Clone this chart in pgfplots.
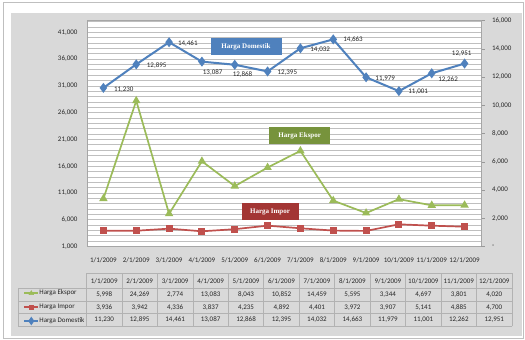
\documentclass[border=0pt]{standalone}
\usepackage{pgfplots}
\pgfplotsset{compat=1.18}
\usepackage{pgfplotstable}
\usepackage{fontspec}
\setmainfont{Carlito}
\newfontfamily\boxfont{Liberation Serif}
\definecolor{cblue}{HTML}{4F81BD}
\definecolor{cred}{HTML}{C0504D}
\definecolor{cgreen}{HTML}{9BBB59}
\definecolor{bblue}{HTML}{4F81BD}
\definecolor{bgreen}{HTML}{77933C}
\definecolor{bred}{HTML}{A33634}
\definecolor{bgc}{HTML}{D9D9D9}
\definecolor{gridc}{HTML}{BFBFBF}
\definecolor{txt}{HTML}{262626}

\pgfplotstableread{
x impor ekspor
0 3936 5998
1 3942 24269
2 4336 2774
3 3837 13083
4 4235 8043
5 4892 10852
6 4401 14459
7 3972 5595
8 3907 3344
9 5141 4697
10 4885 3801
11 4700 4020
}\tabA

\pgfplotstableread{
x dom lab dx dy
0 11230 11,230 8.6 -2
1 12895 12,895 8.7 -1.3
2 14461 14,461 7 -1
3 13087 13,087 -1 -11.4
4 12868 12,868 -4 -10.2
5 12395 12,395 8 -1.3
6 14032 14,032 8 -1
7 14663 14,663 8 -0.6
8 11979 11,979 7.4 -1.7
9 11001 11,001 7.5 -0.6
10 12262 12,262 4.6 -6.7
11 12951 12,951 -14.6 10
}\tabB

\newcommand{\sm}{\fontsize{7}{8}\selectfont}

\begin{document}
\begin{tikzpicture}
\useasboundingbox (0pt,0pt) rectangle (525pt,340pt);
\fill[white] (0pt,0pt) rectangle (525pt,340pt);
\draw[black!25] (3pt,1.5pt) rectangle (523.5pt,338pt);
\fill[bgc] (11pt,3.5pt) rectangle (522pt,327.3pt);

\begin{axis}[
  at={(87pt,93.5pt)}, anchor=south west,
  width=394pt, height=226pt, scale only axis,
  axis background/.style={fill=white},
  xmin=-0.5, xmax=11.5, ymin=1000, ymax=43200,
  xtick=\empty,
  scaled y ticks=false,
  ytick={1000,6000,...,41000},
  minor ytick={2000,3000,...,43000},
  ymajorgrids, yminorgrids,
  major grid style={gridc, line width=0.6pt},
  minor grid style={gridc, line width=0.6pt},
  y tick style={draw=none},
  yticklabel style={font=\sm, text=txt, xshift=-6pt, /pgf/number format/fixed, /pgf/number format/1000 sep={,}},
  /pgf/number format/assume math mode=true,
  axis line style={black!35},
  stack plots=y,
]
\addplot[cred, line width=1.7pt, mark=square*, mark size=2.6pt] table[x=x,y=impor]{\tabA};
\addplot[cgreen, line width=1.7pt, mark=triangle*, mark size=3.2pt] table[x=x,y=ekspor]{\tabA};
\end{axis}

\begin{axis}[
  at={(87pt,93.5pt)}, anchor=south west,
  width=394pt, height=226pt, scale only axis,
  xmin=-0.5, xmax=11.5, ymin=0, ymax=16000,
  hide x axis, xtick=\empty,
  axis y line*=right,
  axis line style={black!35},
  scaled y ticks=false,
  ytick={0,2000,...,16000},
  yticklabels={-,{2,000},{4,000},{6,000},{8,000},{10,000},{12,000},{14,000},{16,000}},
  yticklabel style={font=\sm, text=txt, xshift=4pt},
  tick align=outside, major tick length=3.5pt,
  y tick style={black!40},
  legend style={at={(-0.1688,-0.2677)}, anchor=west, draw=none, fill=none,
    font=\sm, row sep=6.5pt, text=txt,
    nodes={inner sep=0.5pt, text height=5pt, text depth=1.5pt}},
  legend cell align=left,
]
\addlegendimage{legend image code/.code={\draw[cgreen, line width=1.2pt] (0pt,0pt) -- (14pt,0pt); \fill[cgreen] (7pt,2.4pt) -- (9.3pt,-1.6pt) -- (4.7pt,-1.6pt) -- cycle;}, cgreen}
\addlegendentry{Harga Ekspor}
\addlegendimage{legend image code/.code={\draw[cred, line width=1.2pt] (0pt,0pt) -- (14pt,0pt); \fill[cred] (5pt,-2pt) rectangle (9pt,2pt);}, cred}
\addlegendentry{Harga Impor}
\addplot[cblue, line width=2pt, mark=diamond*, mark size=3.4pt,
  legend image code/.code={\draw[cblue, line width=1.2pt] (0pt,0pt) -- (14pt,0pt); \fill[cblue] (7pt,2.6pt) -- (8.8pt,0pt) -- (7pt,-2.6pt) -- (5.2pt,0pt) -- cycle;},
  nodes near coords, point meta=explicit symbolic,
  visualization depends on={\thisrow{dx}\as\ddx},
  visualization depends on={\thisrow{dy}\as\ddy},
  every node near coord/.append style={anchor=west, xshift=\ddx pt, yshift=\ddy pt, font=\sm, text=txt, inner sep=1pt}]
  table[x=x, y=dom, meta=lab]{\tabB};
\addlegendentry{Harga Domestik}
\end{axis}

\begin{scope}[x=1pt, y=1pt]
% category labels of the horizontal axis
\begin{scope}[font=\sm, text=txt]
\foreach \d [count=\i from 0] in {1/1/2009,2/1/2009,3/1/2009,4/1/2009,5/1/2009,6/1/2009,7/1/2009,8/1/2009,9/1/2009,10/1/2009,11/1/2009,12/1/2009}
  \node[inner sep=0pt] at ({87+32.8333*(\i+0.5)},80) {\d};
\end{scope}
% text boxes
\node[fill=bblue, text=white, font=\boxfont\bfseries\fontsize{7}{8}\selectfont, minimum width=71pt, minimum height=16.5pt, inner sep=0pt] at (246,293.3) {Harga Domestik};
\node[fill=bgreen, text=white, font=\boxfont\bfseries\fontsize{7}{8}\selectfont, minimum width=61pt, minimum height=16.5pt, inner sep=0pt] at (299.7,204.3) {Harga Ekspor};
\node[fill=bred, text=white, font=\boxfont\bfseries\fontsize{7}{8}\selectfont, minimum width=57pt, minimum height=16.5pt, inner sep=0pt] at (270,128.5) {Harga Impor};

% data table
\begin{scope}[black!30, line width=0.6pt]
\draw (86.5,66.5) -- (512,66.5);
\foreach \yy in {51.5,39,26.2,13.5} \draw (18,\yy) -- (512,\yy);
\draw (18,13.5) -- (18,51.5);
\foreach \k in {0,...,12} \draw ({86.5+35.4583*\k},13.5) -- ({86.5+35.4583*\k},66.5);
\end{scope}
\begin{scope}[font=\sm, text=txt]
\foreach \d [count=\i from 0] in {1/1/2009,2/1/2009,3/1/2009,4/1/2009,5/1/2009,6/1/2009,7/1/2009,8/1/2009,9/1/2009,10/1/2009,11/1/2009,12/1/2009}
  \node at ({86.5+35.4583*(\i+0.5)},59) {\d};
\foreach \v [count=\i from 0] in {{5,998},{24,269},{2,774},{13,083},{8,043},{10,852},{14,459},{5,595},{3,344},{4,697},{3,801},{4,020}}
  \node at ({86.5+35.4583*(\i+0.5)},45.5) {\v};
\foreach \v [count=\i from 0] in {{3,936},{3,942},{4,336},{3,837},{4,235},{4,892},{4,401},{3,972},{3,907},{5,141},{4,885},{4,700}}
  \node at ({86.5+35.4583*(\i+0.5)},32.8) {\v};
\foreach \v [count=\i from 0] in {{11,230},{12,895},{14,461},{13,087},{12,868},{12,395},{14,032},{14,663},{11,979},{11,001},{12,262},{12,951}}
  \node at ({86.5+35.4583*(\i+0.5)},20) {\v};
\end{scope}
\end{scope}
\end{tikzpicture}
\end{document}
